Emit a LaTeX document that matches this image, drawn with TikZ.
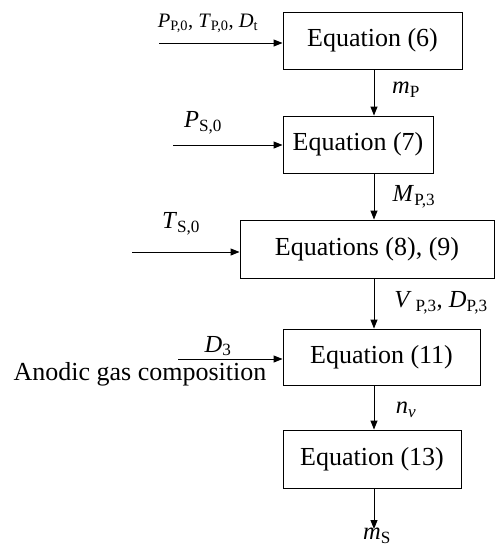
\documentclass[tikz,border=0pt]{standalone}
\usepackage{fontspec}
\setmainfont{Liberation Serif}
\newfontfamily\tnr{Liberation Serif}
\usetikzlibrary{arrows.meta}
\newcommand\varsub[2]{\textit{#1}\textsubscript{#2}}
\begin{document}
\begin{tikzpicture}[x=1pt,y=-1pt,
 box/.style={draw,line width=0.9pt,inner sep=0pt,font=\tnr\fontsize{26}{30}\selectfont},
 lab/.style={inner sep=0pt,font=\tnr\fontsize{24.5}{28}\selectfont},
 smalllab/.style={inner sep=0pt,font=\tnr\fontsize{20.5}{24}\selectfont},
 txt/.style={inner sep=0pt,font=\tnr\fontsize{26}{30}\selectfont},
 arr/.style={line width=1pt,-{Triangle[length=9pt,width=7pt]}}]
\useasboundingbox (0,0) rectangle (496,547);
\node[box,minimum width=179pt,minimum height=57pt] (e6) at (372.5,40.5) {Equation (6)};
\node[box,minimum width=150pt,minimum height=57pt] (e7) at (358,144.5) {Equation (7)};
\node[box,minimum width=254pt,minimum height=58pt] (e89) at (367,249) {Equations (8), (9)};
\node[box,minimum width=197pt,minimum height=56pt] (e11) at (381.5,357) {Equation (11)};
\node[box,minimum width=178pt,minimum height=58pt] (e13) at (372,459) {Equation (13)};
\coordinate (col) at (374,0);
\coordinate (in1) at (159,43);
\coordinate (in2) at (173,145);
\coordinate (in3) at (132,252);
\coordinate (in4) at (178,359);
\coordinate (out) at (374,529);
\draw[arr] (e6.south -| col) -- (e7.north -| col);
\draw[arr] (e7.south -| col) -- (e89.north -| col);
\draw[arr] (e89.south -| col) -- (e11.north -| col);
\draw[arr] (e11.south -| col) -- (e13.north -| col);
\draw[arr] (e13.south -| col) -- (out);
\draw[arr] (in1) -- (in1 -| e6.west);
\draw[arr] (in2) -- (in2 -| e7.west);
\draw[arr] (in3) -- (in3 -| e89.west);
\draw[arr] (in4) -- (in4 -| e11.west);
\node[smalllab] (l1) at (208,23) {\varsub{P}{P,0}, \varsub{T}{P,0}, \varsub{D}{t}};
\node[lab] (l2) at (406,90) {\varsub{m}{P}};
\node[lab] (l3) at (203,123) {\varsub{P}{S,0}};
\node[lab] (l4) at (414,197) {\varsub{M}{P,3}};
\node[lab] (l5) at (181,224) {\varsub{T}{S,0}};
\node[lab] (l6) at (441,303) {\textit{V}\,\textsubscript{P,3}, \varsub{D}{P,3}};
\node[lab] (l7) at (218,346) {\varsub{D}{3}};
\node[txt,anchor=base] (anodic) at (140,380) {Anodic gas composition};
\node[lab] (l8) at (406,410) {\textit{n}\textsubscript{\textit{v}}};
\node[lab,anchor=south] (l9) at (377,543.5) {\varsub{m}{S}};
\end{tikzpicture}
\end{document}
